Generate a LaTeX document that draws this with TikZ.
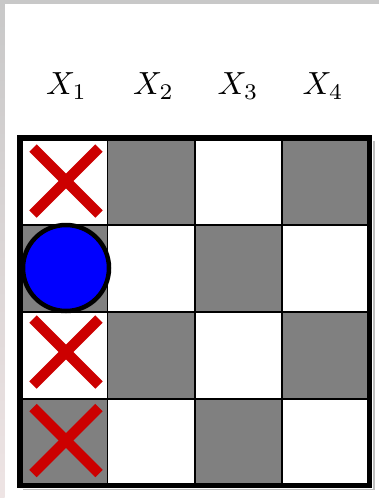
\documentclass[tikz,border=0pt]{standalone}
\begin{document}
\begin{tikzpicture}[x=1pt,y=-1pt,
  cellgray/.style={fill=black!50},
  gridline/.style={line width=1.7pt, draw=black},
  border/.style={line width=5.5pt, draw=black},
  cross/.style={line width=10.5pt, draw={rgb,255:red,204;green,0;blue,0}},
  token/.style={circle, draw=black, line width=4.5pt, fill=blue, minimum size=86pt, inner sep=0pt},
  lab/.style={scale=3.2, anchor=base, inner sep=0pt}]
\definecolor{framegray}{RGB}{200,200,200}
\definecolor{framepink}{RGB}{238,228,228}
\useasboundingbox (0,0) rectangle (379,498);
\fill[white] (0,0) rectangle (379,498);
\fill[framegray] (0,0) rectangle (379,4.3);
\shade[top color=framegray, bottom color=framepink] (0,0) rectangle (4.7,498);
% labels
\node[lab] (x1) at (66.5,94.5) {$X_1$};
\node[lab] (x2) at (153.5,94.5) {$X_2$};
\node[lab] (x3) at (238,94.5) {$X_3$};
\node[lab] (x4) at (323,94.5) {$X_4$};
% cells
\foreach \i in {0,...,3}{
  \foreach \j in {0,...,3}{
    \pgfmathtruncatemacro{\parity}{mod(\i+\j,2)}
    \ifnum\parity=1
      \fill[cellgray] (20+87.4*\i,138+86.9*\j) rectangle ++(87.4,86.9);
    \fi
  }
}
% grid lines
\foreach \k in {1,2,3}{
  \draw[gridline] (20+87.4*\k,138) -- (20+87.4*\k,485.6);
  \draw[gridline] (20,138+86.9*\k) -- (369.6,138+86.9*\k);
}
% shadow and border
\draw[black!25, line width=1.5pt] (374,141) -- (374,489.5) -- (23,489.5);
\draw[border] (20,138) rectangle (369.6,485.6);
% crosses
\foreach \cy in {181,352,440.5}{
  \draw[cross] (66-33,\cy-33) -- (66+33,\cy+33);
  \draw[cross] (66-33,\cy+33) -- (66+33,\cy-33);
}
% token
\node[token] (tok) at (66,268) {};
\end{tikzpicture}
\end{document}
